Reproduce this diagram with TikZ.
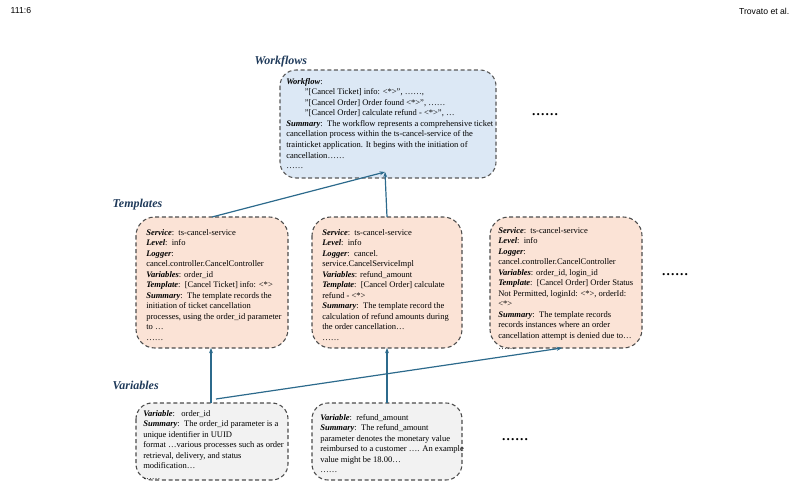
\documentclass[tikz,border=0pt]{standalone}
\usepackage{fontspec}
\setmainfont{Liberation Serif}
\newfontfamily\hdr{Liberation Sans}
\usetikzlibrary{arrows.meta}
\definecolor{lbl}{HTML}{1F3A5A}
\definecolor{arr}{HTML}{2C6A8C}
\definecolor{wfb}{HTML}{DCE8F5}
\definecolor{tpb}{HTML}{FBE3D6}
\definecolor{vrb}{HTML}{F2F2F2}
\begin{document}
\begin{tikzpicture}[x=0.75pt,y=-0.75pt,
  box/.style={draw=#1,densely dashed,line width=0.8pt,rounded corners=12pt,anchor=north west,inner sep=0pt},
  txt/.style={anchor=north west,align=left,font=\fontsize{6.4}{7.9}\selectfont,inner sep=0pt},
  sec/.style={anchor=west,font=\fontsize{9}{10}\selectfont\bfseries\itshape,text=lbl},
  dots/.style={font=\fontsize{10}{10}\selectfont\bfseries},
  con/.style={draw=arr,line width=0.9pt,-{Stealth[length=4pt,width=3pt]}}]
\useasboundingbox (0,0) rectangle (800,489);
\node[anchor=west,font=\hdr\fontsize{6.5}{7}\selectfont] (h1) at (6,11) {111:6};
\node[anchor=east,font=\hdr\fontsize{6.5}{7}\selectfont] (h2) at (794,11) {Trovato et al.};
% workflow
\node[sec] (lw) at (250,62) {Workflows};
\filldraw[fill=wfb,draw=gray!70!black,densely dashed,line width=0.8pt,rounded corners=12pt] (280,70) rectangle (496,178);
\coordinate (wf) at (385,172);
\node[txt] (wft) at (286,78) {\textbf{\textit{Workflow}}:\\
\hspace{14pt}"[Cancel Ticket] info: <*>", \dots\dots,\\
\hspace{14pt}"[Cancel Order] Order found <*>", \dots\dots\\
\hspace{14pt}"[Cancel Order] calculate refund - <*>", \dots\\
\textbf{\textit{Summary}}:\ \ The workflow represents a comprehensive ticket\\
cancellation process within the ts-cancel-service of the\\
trainticket application. It begins with the initiation of\\
cancellation\dots\dots\\
\dots\dots};
\node[dots] (d1) at (545,115) {\dots\dots};
% templates
\node[sec] (lt) at (108,205) {Templates};
\filldraw[fill=tpb,draw=gray!60!black,densely dashed,line width=0.8pt,rounded corners=14pt] (136,217) rectangle (288,348);
\filldraw[fill=tpb,draw=gray!60!black,densely dashed,line width=0.8pt,rounded corners=14pt] (312,217) rectangle (462,348);
\filldraw[fill=tpb,draw=gray!60!black,densely dashed,line width=0.8pt,rounded corners=14pt] (490,217) rectangle (642,348);
\coordinate (t1t) at (212,217); \coordinate (t2t) at (387,217);
\coordinate (t1b) at (211,348); \coordinate (t2b) at (387,348); \coordinate (t3b) at (562,348);
\node[txt] (tt1) at (146,229) {\textbf{\textit{Service}}:\ \ ts-cancel-service\\
\textbf{\textit{Level}}:\ \ info\\
\textbf{\textit{Logger}}:\\
cancel.controller.CancelController\\
\textbf{\textit{Variables}}: order\_id\\
\textbf{\textit{Template}}:\ \ [Cancel Ticket] info: <*>\\
\textbf{\textit{Summary}}:\ \ The template records the\\
initiation of ticket cancellation\\
processes, using the order\_id parameter\\
to \dots\\
\dots\dots};
\node[txt] (tt2) at (322,229) {\textbf{\textit{Service}}:\ \ ts-cancel-service\\
\textbf{\textit{Level}}:\ \ info\\
\textbf{\textit{Logger}}:\ \ cancel.\\
service.CancelServiceImpl\\
\textbf{\textit{Variables}}: refund\_amount\\
\textbf{\textit{Template}}:\ \ [Cancel Order] calculate\\
refund - <*>\\
\textbf{\textit{Summary}}:\ \ The template record the\\
calculation of refund amounts during\\
the order cancellation\dots\\
\dots\dots};
\node[txt] (tt3) at (498,227) {\textbf{\textit{Service}}:\ \ ts-cancel-service\\
\textbf{\textit{Level}}:\ \ info\\
\textbf{\textit{Logger}}:\\
cancel.controller.CancelController\\
\textbf{\textit{Variables}}: order\_id, login\_id\\
\textbf{\textit{Template}}:\ \ [Cancel Order] Order Status\\
Not Permitted, loginId: <*>, orderId:\\
<*>\\
\textbf{\textit{Summary}}:\ \ The template records\\
records instances where an order\\
cancellation attempt is denied due to\dots\\
\dots\dots};
\node[dots] (d2) at (675,275) {\dots\dots};
% variables
\node[sec] (lv) at (108,385) {Variables};
\filldraw[fill=vrb,draw=gray!60!black,densely dashed,line width=0.8pt,rounded corners=12pt] (136,403) rectangle (288,480);
\filldraw[fill=vrb,draw=gray!60!black,densely dashed,line width=0.8pt,rounded corners=12pt] (312,403) rectangle (462,480);
\coordinate (v1t) at (211,403); \coordinate (v2t) at (387,403); \coordinate (v1s) at (216,399);
\node[txt] (vt1) at (143,410) {\textbf{\textit{Variable}}:\ \ \ order\_id\\
\textbf{\textit{Summary}}:\ \ The order\_id parameter is a\\
unique identifier in UUID\\
format \dots various processes such as order\\
retrieval, delivery, and status\\
modification\dots\\
\dots\dots};
\node[txt] (vt2) at (320,414) {\textbf{\textit{Variable}}:\ \ refund\_amount\\
\textbf{\textit{Summary}}:\ \ The refund\_amount\\
parameter denotes the monetary value\\
reimbursed to a customer \dots. An example\\
value might be 18.00\dots\\
\dots\dots};
\node[dots] (d3) at (515,440) {\dots\dots};
% connectors
\draw[con] (t1t) -- (wf);
\draw[con] (t2t) -- (wf);
\draw[con] (v1t) -- (t1b);
\draw[con] (v2t) -- (t2b);
\draw[con] (v1s) -- (t3b);
\end{tikzpicture}
\end{document}
